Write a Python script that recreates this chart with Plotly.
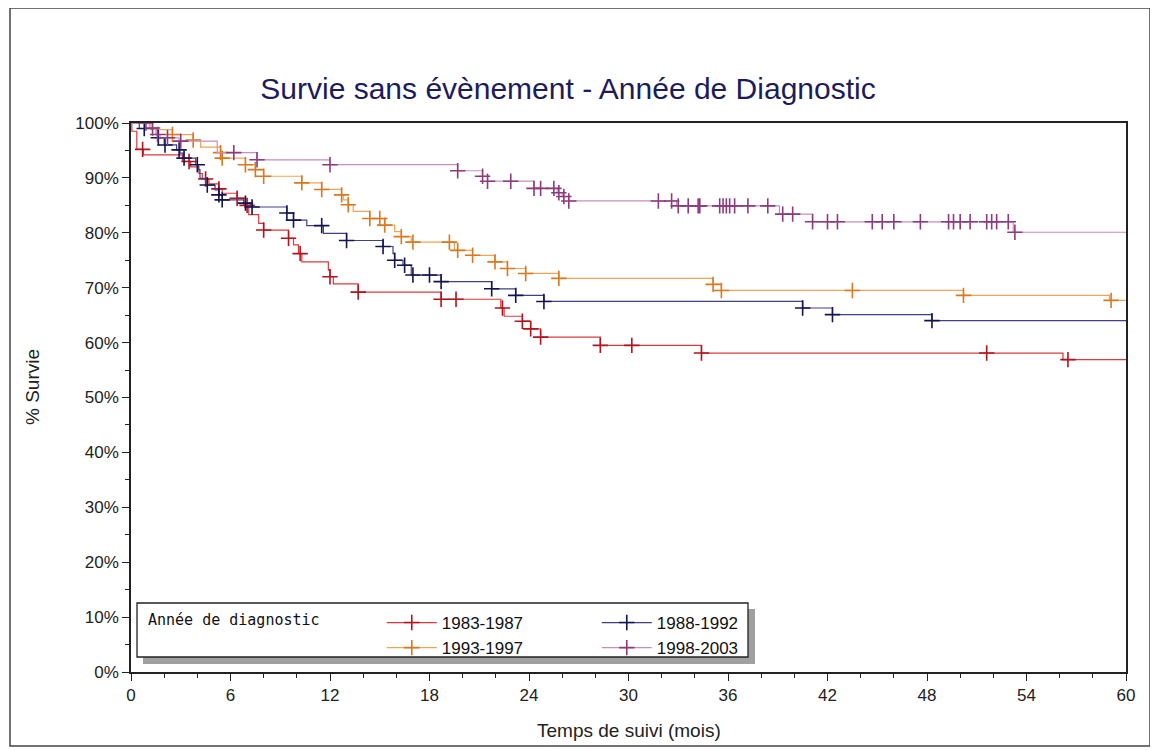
import numpy as np
import plotly.graph_objects as go

# ---------------- data ----------------
# Kaplan-Meier steps: event time (months) -> survival (%) after the drop
t_8387 = [0.05, 0.35, 0.75, 3.1, 3.6, 4.1, 4.3, 4.7, 5.3, 5.5, 6.4, 6.8, 7.1, 7.7, 8.0,
          9.5, 9.8, 10.1, 10.3, 11.9, 12.0, 12.2, 13.7, 18.7, 22.3, 22.5, 23.6, 24.1,
          24.7, 28.3, 34.4, 56.2]
s_8387 = [98.5, 95.2, 94.2, 93.0, 92.0, 90.8, 89.8, 88.9, 88.0, 87.2, 86.3, 85.0, 83.3,
          81.7, 80.5, 79.0, 77.8, 76.2, 74.7, 73.2, 72.0, 70.7, 69.2, 67.9, 66.3, 64.8,
          63.9, 62.5, 61.0, 59.5, 58.1, 56.9]
c_8387 = [0.7, 3.5, 4.5, 5.3, 6.4, 7.0, 8.0, 9.5, 10.2, 12.0, 13.7, 18.7, 19.6, 22.4,
          23.6, 24.1, 24.7, 28.3, 30.2, 34.4, 51.6, 56.5]

t_8892 = [0.5, 1.6, 2.0, 2.75, 2.95, 3.15, 3.9, 4.05, 4.16, 4.6, 5.07, 5.3, 5.5, 6.8,
          7.2, 9.4, 9.8, 10.6, 11.6, 13.0, 15.2, 15.8, 15.9, 16.4, 16.9, 18.7, 21.75,
          23.2, 24.9, 40.5, 42.3, 48.3]
s_8892 = [99.0, 97.3, 96.0, 95.1, 94.5, 93.6, 92.4, 91.5, 89.9, 88.7, 87.8, 86.9, 86.0,
          85.4, 84.7, 83.6, 82.3, 81.3, 79.9, 78.6, 77.5, 76.2, 75.0, 74.1, 72.3, 71.1,
          69.8, 68.6, 67.5, 66.3, 65.1, 64.0]
c_8892 = [0.8, 1.65, 2.05, 2.9, 3.2, 4.0, 4.6, 5.3, 5.5, 6.9, 7.3, 9.4, 9.8, 11.5, 13.0,
          15.2, 15.9, 16.5, 17.0, 18.0, 18.7, 21.75, 23.2, 24.9, 40.5, 42.3, 48.3]

t_9397 = [1.2, 2.5, 3.75, 4.2, 5.4, 5.5, 6.9, 7.5, 8.0, 10.3, 11.5, 12.7, 12.8, 13.1,
          13.4, 14.4, 15.3, 15.9, 16.3, 16.9, 19.5, 20.6, 21.95, 22.7, 23.8, 25.8, 35.1,
          35.6, 50.2, 59.0]
s_9397 = [98.8, 97.9, 96.9, 95.6, 94.6, 93.6, 92.4, 91.5, 90.3, 89.1, 87.9, 86.9, 86.0,
          85.1, 83.9, 82.6, 81.4, 80.2, 79.3, 78.3, 76.8, 75.9, 74.7, 73.5, 72.6, 71.7,
          70.6, 69.5, 68.6, 67.7]
c_9397 = [2.5, 3.75, 5.4, 5.5, 6.9, 7.5, 8.0, 10.3, 11.5, 12.7, 13.1, 14.4, 15.0, 15.3,
          16.3, 17.0, 19.2, 19.7, 20.6, 21.95, 22.7, 23.8, 25.8, 35.1, 35.6, 43.5, 50.2,
          59.1]

t_9803 = [1.1, 1.5, 1.75, 2.9, 5.2, 7.6, 12.0, 19.7, 21.2, 21.5, 24.3, 25.7, 26.0, 26.4,
          32.9, 39.1, 41.1, 53.2]
s_9803 = [99.1, 97.9, 97.3, 96.7, 94.6, 93.3, 92.4, 91.3, 90.3, 89.4, 88.1, 87.3, 86.6,
          85.8, 84.9, 83.4, 82.0, 80.1]
c_9803 = [0.9, 1.3, 1.6, 2.2, 3.0, 6.2, 7.6, 12.0, 19.7, 21.2, 21.5, 22.9, 24.3, 24.7,
          25.5, 25.8, 26.1, 26.4, 31.8, 32.6, 33.0, 33.6, 34.2, 34.3, 35.5, 35.7, 35.9,
          36.1, 36.4, 37.2, 38.4, 39.3, 39.9, 41.1, 42.0, 42.6, 44.7, 45.3, 46.0, 47.6,
          49.3, 49.6, 50.0, 50.6, 51.6, 51.9, 52.2, 52.9, 53.3]

group_names = ["1983-1987", "1988-1992", "1993-1997", "1998-2003"]
x_ticks = [0, 6, 12, 18, 24, 30, 36, 42, 48, 54, 60]
y_ticks = [0, 10, 20, 30, 40, 50, 60, 70, 80, 90, 100]
y_tick_labels = [f"{v}%" for v in y_ticks]

T_MAX = 60

series = [
    (group_names[0], t_8387, s_8387, c_8387, "#dc3a3c", "#b3141c", "g1"),
    (group_names[2], t_9397, s_9397, c_9397, "#f0a458", "#d9781e", "g1"),
    (group_names[1], t_8892, s_8892, c_8892, "#40408a", "#14144e", "g2"),
    (group_names[3], t_9803, s_9803, c_9803, "#c890bc", "#8c3c7c", "g2"),
]

fig = go.Figure()

for name, t, s, c, lcol, mcol, grp in series:
    xs = np.array([0.0] + list(t) + [T_MAX])
    ys = np.array([100.0] + list(s) + [s[-1]])
    fig.add_trace(go.Scatter(
        x=xs, y=ys, mode="lines", line=dict(color=lcol, width=1.2, shape="hv"),
        showlegend=False, hoverinfo="skip"))
    idx = np.searchsorted(xs, np.array(c), side="right") - 1
    fig.add_trace(go.Scatter(
        x=c, y=ys[idx], mode="markers",
        marker=dict(symbol="cross-thin", size=11, line=dict(color=mcol, width=1.6)),
        showlegend=False))
    # legend entry
    fig.add_trace(go.Scatter(
        x=[None], y=[None], mode="lines+markers", name=name, legendgroup=grp,
        line=dict(color=lcol, width=1.2),
        marker=dict(symbol="cross-thin", size=11, line=dict(color=mcol, width=1.6))))

# ---------------- layout ----------------
# The page body has an 8px margin, so the figure sits at (8, 8) in the window.
OFF = 8
W, H = 1150, 742
PL, PR, PT, PB = 131, 1126, 123, 672          # plot area in window pixels
L, T = PL - OFF, PT - OFF
R, B = W - (PR - OFF), H - (PB - OFF)


def px_x(p):
    return (p - PL) / (PR - PL)


def px_y(p):
    return (PB - p) / (PB - PT)


SANS = "Liberation Sans, Arial, sans-serif"
axis_font = dict(family=SANS, size=17, color="#222222")

fig.update_layout(
    width=W, height=H,
    margin=dict(l=L, r=R, t=T, b=B),
    paper_bgcolor="white", plot_bgcolor="white",
    title=dict(text="Survie sans évènement - Année de Diagnostic",
               x=(568 - OFF) / W, xanchor="center", y=1 - (88 - OFF) / H,
               yanchor="middle",
               font=dict(family=SANS, size=30, color="#1c1c5c")),
    xaxis=dict(range=[0, T_MAX], tickvals=x_ticks, ticks="outside", ticklen=7,
               tickwidth=1.3, tickcolor="#222", showline=True, linecolor="#222",
               linewidth=1.5, mirror=True, showgrid=False, zeroline=False,
               tickfont=axis_font,
               minor=dict(dtick=2, ticks="outside", ticklen=4, tickcolor="#222",
                          showgrid=False)),
    yaxis=dict(range=[0, 100], tickvals=y_ticks, ticktext=y_tick_labels,
               ticks="outside", ticklen=7, tickwidth=1.3, tickcolor="#222",
               showline=True, linecolor="#222", linewidth=1.5, mirror=True,
               showgrid=False, zeroline=False, tickfont=axis_font,
               minor=dict(dtick=5, ticks="outside", ticklen=4, tickcolor="#222",
                          showgrid=False)),
    legend=dict(
        orientation="h", traceorder="grouped",
        x=px_x(146), xanchor="left", y=px_y(605), yanchor="top",
        bgcolor="rgba(0,0,0,0)", borderwidth=0,
        title=dict(text="Année de diagnostic" + "\u00a0" * 6, side="left",
                   font=dict(family="DejaVu Sans Mono, monospace", size=15,
                             color="#111")),
        font=dict(family=SANS, size=17, color="#111"),
        itemwidth=50, entrywidth=150, entrywidthmode="pixels",
    ),
    showlegend=True,
    annotations=[
        dict(text="Temps de suivi (mois)", xref="paper", yref="paper",
             x=0.5, y=px_y(730), xanchor="center", yanchor="middle",
             showarrow=False, font=dict(family=SANS, size=19, color="#222")),
        dict(text="% Survie", xref="paper", yref="paper",
             x=px_x(32), y=px_y(387), xanchor="center", yanchor="middle",
             textangle=-90, showarrow=False,
             font=dict(family=SANS, size=19, color="#222")),
    ],
    shapes=[
        # outer frame
        dict(type="rect", xref="paper", yref="paper",
             x0=px_x(10), x1=px_x(1150), y0=px_y(746), y1=px_y(8),
             line=dict(color="#444", width=1.5), layer="below"),
        # legend shadow
        dict(type="rect", xref="paper", yref="paper",
             x0=px_x(143), x1=px_x(755), y0=px_y(664), y1=px_y(609),
             fillcolor="#a0a0a0", line=dict(width=0), layer="above"),
        # legend box
        dict(type="rect", xref="paper", yref="paper",
             x0=px_x(137), x1=px_x(748), y0=px_y(657), y1=px_y(603),
             fillcolor="white", line=dict(color="#222", width=1.3), layer="above"),
    ],
)

fig.write_html("out.html")
